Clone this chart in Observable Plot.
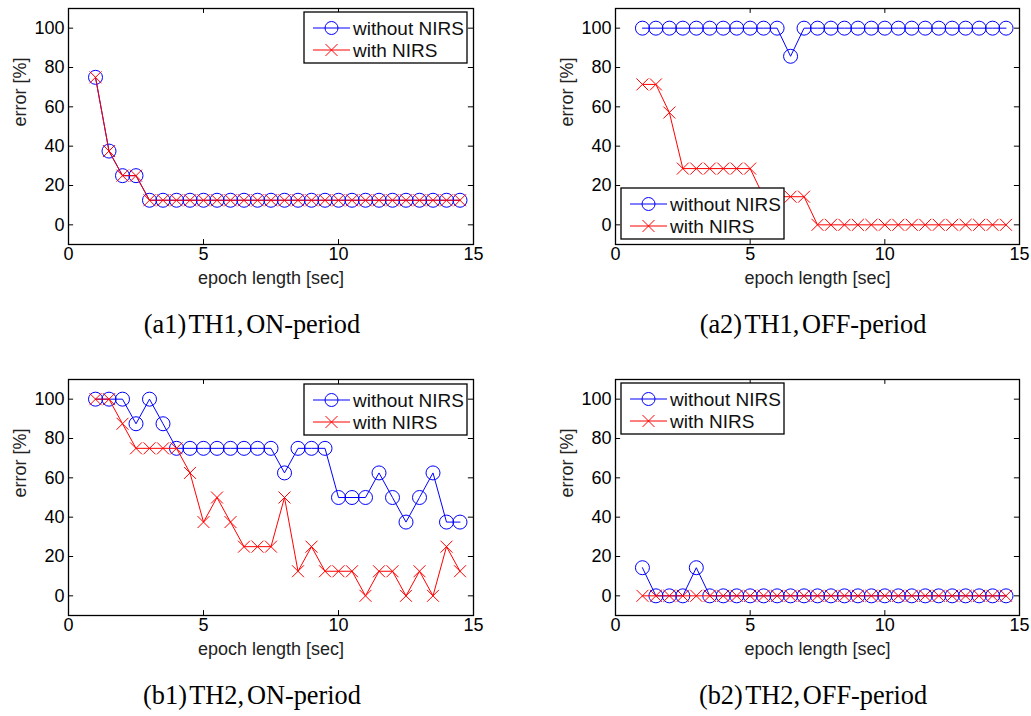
<!DOCTYPE html>
<html>
<head>
<meta charset="utf-8">
<script src="https://cdn.jsdelivr.net/npm/d3@7"></script>
<script src="https://cdn.jsdelivr.net/npm/@observablehq/plot@0.6"></script>
<style>
  html, body { margin: 0; padding: 0; background: #fff; }
  #root { position: relative; width: 1031px; height: 716px; background: #fff; overflow: hidden; }
  .panel { position: absolute; }
  .legend { position: absolute; }
  .caption { position: absolute; width: 400px; text-align: center; font-family: "Liberation Serif", "Times New Roman", serif; font-size: 28px; word-spacing: -4px; color: #000; line-height: 30px; white-space: nowrap; transform: scaleX(0.94); transform-origin: center; }
</style>
</head>
<body>
<div id="root"></div>
<script>
// ---------- data ----------
const epochs = [1, 1.5, 2, 2.5, 3, 3.5, 4, 4.5, 5, 5.5, 6, 6.5, 7, 7.5, 8, 8.5, 9, 9.5, 10, 10.5, 11, 11.5, 12, 12.5, 13, 13.5, 14, 14.5];

const a1Without = [75, 37.5, 25, 25, 12.5, 12.5, 12.5, 12.5, 12.5, 12.5, 12.5, 12.5, 12.5, 12.5, 12.5, 12.5, 12.5, 12.5, 12.5, 12.5, 12.5, 12.5, 12.5, 12.5, 12.5, 12.5, 12.5, 12.5];
const a1With    = [75, 37.5, 25, 25, 12.5, 12.5, 12.5, 12.5, 12.5, 12.5, 12.5, 12.5, 12.5, 12.5, 12.5, 12.5, 12.5, 12.5, 12.5, 12.5, 12.5, 12.5, 12.5, 12.5, 12.5, 12.5, 12.5, 12.5];

const a2Without = [100, 100, 100, 100, 100, 100, 100, 100, 100, 100, 100, 85.7, 100, 100, 100, 100, 100, 100, 100, 100, 100, 100, 100, 100, 100, 100, 100, 100];
const a2With    = [71.4, 71.4, 57.1, 28.6, 28.6, 28.6, 28.6, 28.6, 28.6, 14.3, 14.3, 14.3, 14.3, 0, 0, 0, 0, 0, 0, 0, 0, 0, 0, 0, 0, 0, 0, 0];

const b1Without = [100, 100, 100, 87.5, 100, 87.5, 75, 75, 75, 75, 75, 75, 75, 75, 62.5, 75, 75, 75, 50, 50, 50, 62.5, 50, 37.5, 50, 62.5, 37.5, 37.5];
const b1With    = [100, 100, 87.5, 75, 75, 75, 75, 62.5, 37.5, 50, 37.5, 25, 25, 25, 50, 12.5, 25, 12.5, 12.5, 12.5, 0, 12.5, 12.5, 0, 12.5, 0, 25, 12.5];

const b2Without = [14.3, 0, 0, 0, 14.3, 0, 0, 0, 0, 0, 0, 0, 0, 0, 0, 0, 0, 0, 0, 0, 0, 0, 0, 0, 0, 0, 0, 0];
const b2With    = [0, 0, 0, 0, 0, 0, 0, 0, 0, 0, 0, 0, 0, 0, 0, 0, 0, 0, 0, 0, 0, 0, 0, 0, 0, 0, 0, 0];

const seriesNames = ["without NIRS", "with NIRS"];
const captions = ["(a1) TH1, ON-period", "(a2) TH1, OFF-period", "(b1) TH2, ON-period", "(b2) TH2, OFF-period"];
const xTicks = [0, 5, 10, 15];
const yTicks = [0, 20, 40, 60, 80, 100];
const xLabel = "epoch length [sec]";
const yLabel = "error [%]";

// ---------- layout ----------
const BLUE = "#0000ff", RED = "#ff0000";
const panels = [
  {without: a1Without, withN: a1With, left: 0,   top: 0,   ml: 68,  mr: 42, legend: {x: 304, y: 12},  cap: {cx: 252, cy: 324}},
  {without: a2Without, withN: a2With, left: 515, top: 0,   ml: 100, mr: 11, legend: {x: 621, y: 188}, cap: {cx: 813, cy: 324}},
  {without: b1Without, withN: b1With, left: 0,   top: 371, ml: 68,  mr: 42, legend: {x: 304, y: 384}, cap: {cx: 252, cy: 695}},
  {without: b2Without, withN: b2With, left: 515, top: 371, ml: 100, mr: 11, legend: {x: 621, y: 383}, cap: {cx: 813, cy: 695}}
];

const root = document.getElementById("root");
const FONT = "Liberation Sans, Arial, Helvetica, sans-serif";

panels.forEach((p, i) => {
  const dWithout = epochs.map((x, k) => ({x, y: p.without[k]}));
  const dWith = epochs.map((x, k) => ({x, y: p.withN[k]}));
  const chart = Plot.plot({
    width: 515,
    height: 290,
    marginLeft: p.ml,
    marginRight: p.mr,
    marginTop: 8,
    marginBottom: 46,
    style: {fontFamily: FONT, fontSize: "18px", color: "#000", background: "transparent", overflow: "visible"},
    x: {domain: [0, 15], ticks: xTicks},
    y: {domain: [-10, 110], ticks: yTicks},
    marks: [
      Plot.axisX({ticks: xTicks, tickSize: 0, tickPadding: 3, label: null, fontSize: 18}),
      Plot.axisY({ticks: yTicks, tickSize: 0, tickPadding: 4, label: null, fontSize: 18}),
      // inward ticks on four sides
      Plot.ruleX(xTicks, {x: d => d, y1: -10, y2: -7.5, stroke: "#000"}),
      Plot.ruleX(xTicks, {x: d => d, y1: 110, y2: 107.5, stroke: "#000"}),
      Plot.ruleY(yTicks, {y: d => d, x1: 0, x2: 0.19, stroke: "#000"}),
      Plot.ruleY(yTicks, {y: d => d, x1: 15, x2: 14.81, stroke: "#000"}),
      Plot.line(dWithout, {x: "x", y: "y", stroke: BLUE, strokeWidth: 1}),
      Plot.dot(dWithout, {x: "x", y: "y", r: 7, stroke: BLUE, fill: "none", strokeWidth: 1}),
      Plot.line(dWith, {x: "x", y: "y", stroke: RED, strokeWidth: 1}),
      Plot.dot(dWith, {x: "x", y: "y", symbol: "times", r: 5.5, stroke: RED, strokeWidth: 1}),
      Plot.frame({stroke: "#000", strokeWidth: 1.3}),
      Plot.text([xLabel], {frameAnchor: "bottom", lineAnchor: "middle", dy: 34, fontSize: 18, fill: "#222", text: d => d}),
      Plot.text([yLabel], {frameAnchor: "left", lineAnchor: "middle", dx: -48, rotate: -90, fontSize: 18, fill: "#222", text: d => d})
    ]
  });
  const wrap = document.createElement("div");
  wrap.className = "panel";
  wrap.style.left = p.left + "px";
  wrap.style.top = p.top + "px";
  wrap.appendChild(chart);
  root.appendChild(wrap);

  // legend overlay
  const lw = 163, lh = 51;
  const svg = d3.select(root).append("svg")
    .attr("class", "legend")
    .attr("width", lw + 2).attr("height", lh + 2)
    .style("left", (p.legend.x - 1) + "px").style("top", (p.legend.y - 1) + "px");
  svg.append("rect").attr("x", 1).attr("y", 1).attr("width", lw).attr("height", lh)
    .attr("fill", "#fff").attr("stroke", "#000").attr("stroke-width", 1.3);
  const rows = [
    {name: seriesNames[0], color: BLUE, sym: "circle", y: 17},
    {name: seriesNames[1], color: RED, sym: "times", y: 39}
  ];
  rows.forEach(r => {
    svg.append("line").attr("x1", 10).attr("x2", 47).attr("y1", r.y).attr("y2", r.y)
      .attr("stroke", r.color).attr("stroke-width", 1);
    if (r.sym === "circle") {
      svg.append("circle").attr("cx", 28.5).attr("cy", r.y).attr("r", 6.5)
        .attr("fill", "none").attr("stroke", r.color).attr("stroke-width", 1);
    } else {
      svg.append("path").attr("transform", `translate(28.5,${r.y})`)
        .attr("d", d3.symbol(d3.symbolTimes, Math.PI * 5.5 * 5.5)())
        .attr("fill", "none").attr("stroke", r.color).attr("stroke-width", 1);
    }
    svg.append("text").attr("x", 50).attr("y", r.y).attr("dy", "0.35em")
      .attr("font-family", FONT).attr("font-size", 19).attr("fill", "#111").text(r.name);
  });

  // caption
  const cap = document.createElement("div");
  cap.className = "caption";
  cap.textContent = captions[i];
  cap.style.left = (p.cap.cx - 200) + "px";
  cap.style.top = (p.cap.cy - 15) + "px";
  root.appendChild(cap);
});
</script>
</body>
</html>
